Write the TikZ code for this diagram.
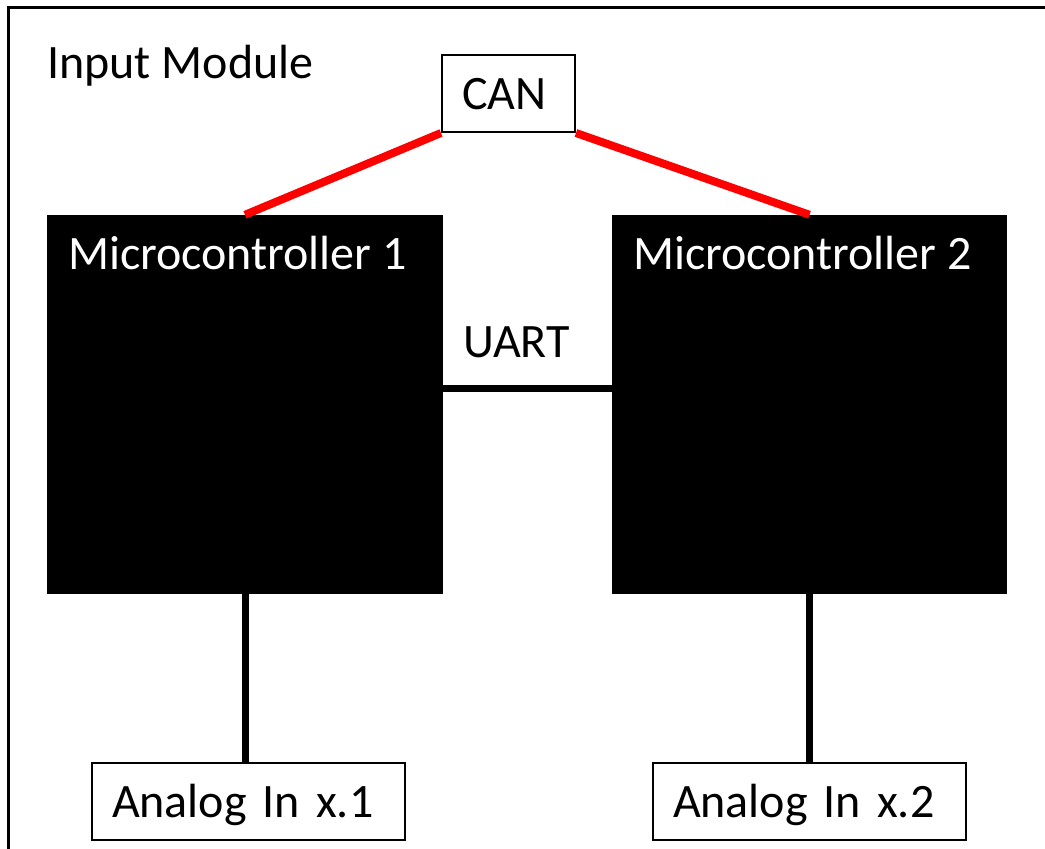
\documentclass[tikz,border=0pt]{standalone}
\usepackage{fontspec}
\setmainfont{Carlito}
\newcommand{\diagfont}{\fontsize{48}{58}\selectfont}

\begin{document}
\begin{tikzpicture}[x=1pt,y=-1pt]
    %
    % `block' is used for the small white boxes (CAN, analog inputs).
    % `mcu' is used for the black microcontroller boxes.
    % `bus' and `wire' are the connections.
    \tikzstyle{block} = [draw,line width=2pt,fill=white,inner xsep=20pt,inner ysep=0pt,minimum height=77pt,text height=31pt,text depth=0pt,align=left,font=\diagfont]
    \tikzstyle{mcu} = [fill=black,inner sep=0pt,minimum height=379pt]
    \tikzstyle{label} = [inner sep=0pt,font=\diagfont]
    \tikzstyle{bus} = [draw=red,line width=8pt]
    \tikzstyle{wire} = [draw=black,line width=7pt]
    %
    \useasboundingbox (0,0) rectangle (1045,849);
    %
    % Frame
    \draw[line width=3pt] (8.5,7) rectangle (1070,880);
    \node[label,anchor=base west] (title) at (47,78) {Input Module};
    %
    % Microcontrollers
    \node[mcu,minimum width=396pt] (mc1) at (245,404.5) {};
    \node[mcu,minimum width=395pt] (mc2) at (809.5,404.5) {};
    \node[label,text=white,anchor=base west] (mc1text) at ([xshift=21pt,yshift=-55pt]mc1.north west) {Microcontroller 1};
    \node[label,text=white,anchor=base west] (mc2text) at ([xshift=21pt,yshift=-55pt]mc2.north west) {Microcontroller 2};
    %
    % CAN
    \node[block,text width=93pt] (can) at (508.5,93.5) {CAN};
    \draw[bus] (can.south west) -- (mc1.north);
    \draw[bus] (can.south east) -- (mc2.north);
    %
    % UART
    \draw[wire] ([yshift=16.5pt]mc1.east) -- ([yshift=16.5pt]mc2.west);
    \node[label,anchor=base west] (uart) at (463,357) {UART};
    %
    % Analog inputs
    \node[block,text width=273pt] (ain1) at (248.5,801.5) {Analog In x.1};
    \node[block,text width=273pt] (ain2) at (809.5,801.5) {Analog In x.2};
    \draw[wire] (mc1.south) -- (mc1.south |- ain1.north);
    \draw[wire] (mc2.south) -- (mc2.south |- ain2.north);
    %
\end{tikzpicture}
\end{document}
